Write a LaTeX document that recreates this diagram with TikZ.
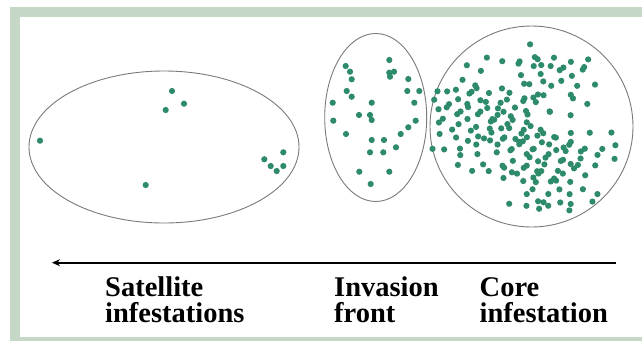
\documentclass[tikz,border=0pt]{standalone}
\usepackage{fontspec}
\setmainfont{Liberation Serif}
\usetikzlibrary{arrows.meta}
\definecolor{FrameGreen}{HTML}{C5D8C5}
\definecolor{DotGreen}{HTML}{2E8B6A}
\definecolor{RingGrey}{HTML}{7A7A7A}

\begin{document}
\begin{tikzpicture}[x=1pt, y=-1pt,
  ring/.style={draw=RingGrey, line width=0.9pt},
  plant/.style={fill=DotGreen},
  tag/.style={font=\fontsize{28.5}{26.7}\selectfont\bfseries, align=left,
              inner sep=0pt, anchor=base west},
  arr/.style={-{Stealth[length=8pt, width=7pt]}, line width=1.6pt}
]
\useasboundingbox (0,0) rectangle (642,341);

% frame
\fill[FrameGreen] (10,7) rectangle (642,341);
\fill[white] (20,17) rectangle (642,337);

% the three zones
\draw[ring] (164,147) ellipse (135 and 76);
\draw[ring] (375.7,117.5) ellipse (51 and 84);
\draw[ring] (531.5,126.5) ellipse (101.5 and 100.5);

% satellite infestations
\foreach \a/\b in {172/91, 184/103.7, 165.7/110, 40/140.7, 145.7/185,
                   264.3/159.3, 283.3/152.3, 270.7/166, 283.3/166, 276.7/171}
  \fill[plant] (\a,\b) circle (3.1);

% invasion front
\foreach \a/\b in {345.7/66, 350/71.7, 351.7/79.3, 389.3/60, 389.3/72.7,
                   390/76.7, 394/71.7, 408.3/79, 407.3/91, 419.3/91,
                   346.7/91, 351.7/96.7, 414.3/102.7, 332.7/102.7, 371.7/102.7,
                   333.3/120.7, 359/115, 370/115, 371.7/120, 415.7/120.7,
                   408.3/127.3, 400.7/134, 346/134, 371.7/140, 384/140,
                   396/147.3, 370/152.3, 383.3/152.3, 359.3/171.7, 389.3/171.7,
                   370.7/184}
  \fill[plant] (\a,\b) circle (3.1);

% core infestation (rows read off, with a little jitter)
\foreach \a/\b in {320/80,
    193/118, 228/118, 285/118, 322/118, 345/118, 390/118, 435/118, 490/118,
    133/140, 288/138, 320/135, 350/140, 375/140, 410/138, 470/135,
    175/158, 290/158, 345/160, 400/158, 470/155,
    120/172, 440/175,
    155/190, 290/190, 320/190, 350/190, 380/190, 415/190, 450/190, 510/190,
    35/212, 65/212, 100/212, 135/212, 160/212, 190/212, 225/212, 260/212,
    305/228, 320/228, 335/228, 360/228, 430/228, 450/228,
    130/228,
    35/245, 65/245, 100/245, 130/245, 160/245, 190/245, 220/245, 250/245,
    300/245, 335/245, 375/268, 490/245,
    40/268, 65/268, 100/268, 135/268, 160/268, 190/268, 215/268, 240/268,
    265/268, 300/268, 380/268, 440/285,
    90/290, 130/290, 160/290, 195/290, 225/290, 250/290, 300/290,
    35/300, 60/300, 100/305, 190/305, 215/305, 240/305, 270/305, 300/305,
    75/325, 130/325, 160/325, 190/325, 225/325, 260/325, 290/325, 320/325, 340/325,
    50/345, 100/345, 160/345, 205/345, 240/345, 290/345, 310/345, 330/345,
    360/345, 380/345, 430/345, 490/345, 565/345,
    130/360, 170/360, 200/360, 240/360, 265/360, 280/360, 300/360, 355/360,
    400/360, 440/360,
    30/380, 100/380, 150/380, 210/380, 255/380, 290/380, 330/380, 365/380,
    410/380, 440/380, 475/380, 535/380, 565/380,
    50/395, 100/410, 150/395, 210/395, 250/395, 300/395, 330/395, 370/395,
    395/395, 420/395, 460/395,
    320/412, 355/412, 410/412, 470/412, 515/412, 565/412,
    100/430, 175/430, 230/430, 270/430, 310/430, 335/430, 365/430, 410/430,
    435/430, 460/430, 515/430,
    140/450, 185/450, 230/450, 265/450, 300/450, 330/450, 355/450, 400/450, 440/450,
    230/468, 270/468, 320/468, 345/468, 380/468, 415/468, 475/468,
    300/485, 335/485, 370/485, 400/485, 440/485,
    300/515, 330/515, 365/515, 400/515, 440/515, 475/515, 510/515,
    250/550, 305/550, 335/550, 355/550, 375/550, 400/550, 435/550, 495/550,
    335/565, 430/565}
  \fill[plant] ({425+\a/3+2.5*sin(\a*7+\b*3)},{20+\b/3+2.5*cos(\a*5+\b*9)}) circle (3.1);

% spread direction
\coordinate (arrR) at (616,262.7);
\coordinate (arrL) at (52,262.7);
\draw[arr] (arrR) -- (arrL);

\node[tag] (sat) at (105,322.7) {Satellite\\infestations};
\node[tag] (inv) at (334,322.7) {Invasion\\front};
\node[tag] (core) at (479.5,322.7) {Core\\infestation};

\end{tikzpicture}
\end{document}
